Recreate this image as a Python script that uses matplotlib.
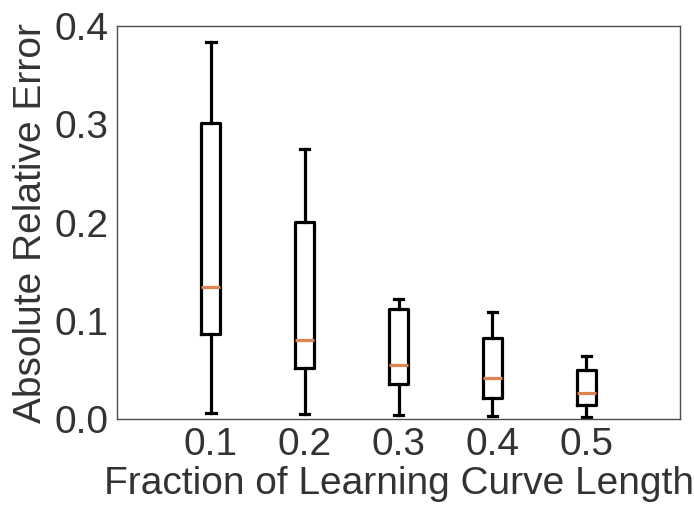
import matplotlib
matplotlib.use("Agg")
import matplotlib.pyplot as plt

plt.rcParams['font.family'] = ['Liberation Sans', 'DejaVu Sans']

# fraction of learning curve used -> error distribution summary
fractions = ["0.1", "0.2", "0.3", "0.4", "0.5"]
whislo = [0.0058, 0.0051, 0.0037, 0.0031, 0.0023]
q1 = [0.0862, 0.0522, 0.0360, 0.0214, 0.0139]
med = [0.1343, 0.0807, 0.0550, 0.0414, 0.0262]
q3 = [0.3016, 0.2008, 0.1123, 0.0821, 0.0496]
whishi = [0.3834, 0.2748, 0.1225, 0.1092, 0.0638]

stats = []
for i in range(len(fractions)):
    stats.append({"label": fractions[i], "whislo": whislo[i], "q1": q1[i],
                  "med": med[i], "q3": q3[i], "whishi": whishi[i], "fliers": []})

fig = plt.figure(figsize=(6.94, 5.05), dpi=100)
ax = fig.add_axes([0.1686, 0.1703, 0.8114, 0.7782])

lw = 2.3
ax.bxp(stats, positions=range(1, 6), widths=0.2, showfliers=False,
       boxprops=dict(color="black", linewidth=lw),
       whiskerprops=dict(color="black", linewidth=lw),
       capprops=dict(color="black", linewidth=lw),
       medianprops=dict(color="#DD8452", linewidth=lw))

ax.set_xlim(0, 6)
ax.set_ylim(0, 0.4)
ax.set_yticks([0.0, 0.1, 0.2, 0.3, 0.4])
ax.tick_params(axis="both", length=0, labelsize=28, colors="#333333", pad=6)
ax.set_xlabel("Fraction of Learning Curve Length", fontsize=28, color="#333333", labelpad=2)
ax.set_ylabel("Absolute Relative Error", fontsize=28, color="#333333", labelpad=4)
for s in ax.spines.values():
    s.set_color("#4d4d4d")
    s.set_linewidth(1)

fig.savefig("out.png", dpi=100)
